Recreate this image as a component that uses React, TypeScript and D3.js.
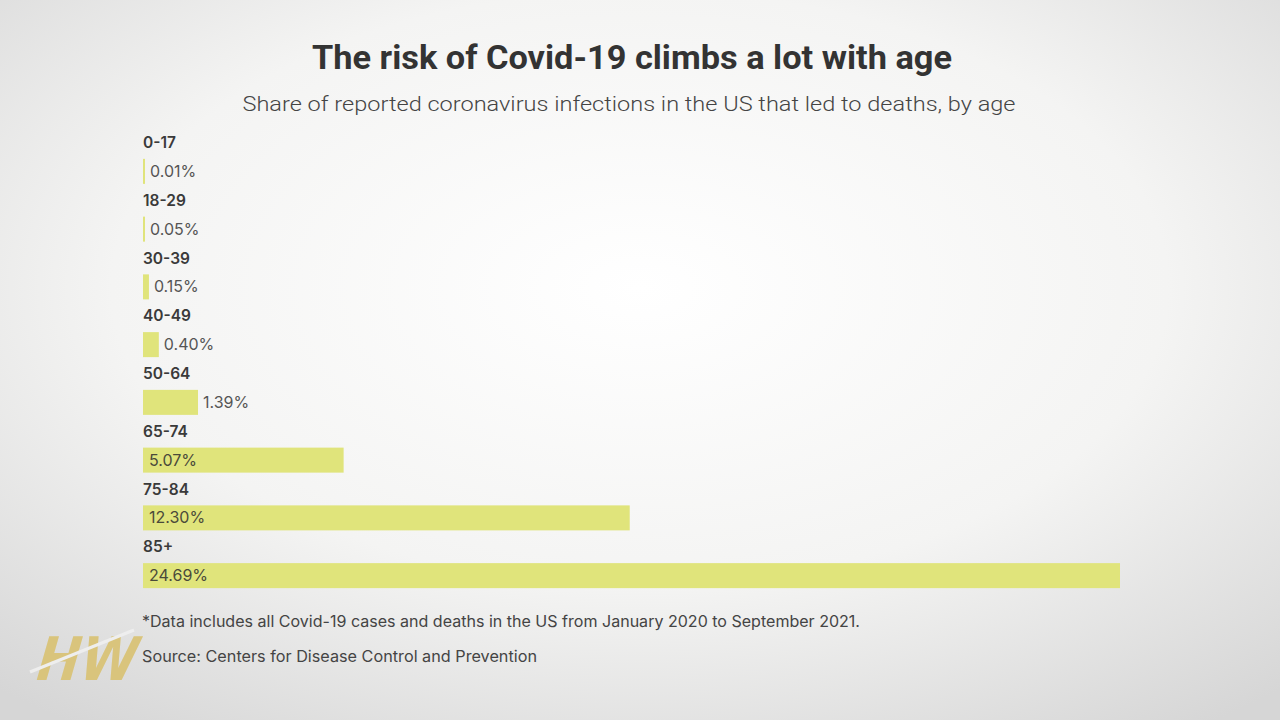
import React from "react";
import * as d3 from "d3";

const categories = ["0-17", "18-29", "30-39", "40-49", "50-64", "65-74", "75-84", "85+"];
const values = [0.01, 0.05, 0.15, 0.4, 1.39, 5.07, 12.3, 24.69];
const valueLabels = ["0.01%", "0.05%", "0.15%", "0.40%", "1.39%", "5.07%", "12.30%", "24.69%"];

const title = "The risk of Covid-19 climbs a lot with age";
const subtitle = "Share of reported coronavirus infections in the US that led to deaths, by age";
const note = "*Data includes all Covid-19 cases and deaths in the US from January 2020 to September 2021.";
const source = "Source: Centers for Disease Control and Prevention";

export default function App() {
  const W = 1280, H = 720;
  const x = d3.scaleLinear().domain([0, 24.69]).range([143, 1120]);
  const y = d3.scaleBand<string>().domain(categories).range([128, 590]).paddingInner(0).paddingOuter(0);
  const bh = 25;
  const font = "Inter, 'Open Sans', sans-serif";
  return (
    <div style={{ position: "absolute", left: 0, top: 0, width: W, height: H, overflow: "hidden" }}>
      <svg width={W} height={H} style={{ display: "block" }}>
        <defs>
          <radialGradient id="bg" cx="50%" cy="40%" r="75%">
            <stop offset="0%" stopColor="#ffffff" />
            <stop offset="55%" stopColor="#f4f4f3" />
            <stop offset="100%" stopColor="#d6d6d6" />
          </radialGradient>
        </defs>
        <rect x={0} y={0} width={W} height={H} fill="url(#bg)" />
        <text x={632} y={69} textAnchor="middle" fontFamily="'Liberation Sans Narrow', 'Roboto', sans-serif"
          fontWeight={700} fontSize={33} fill="#333" textLength={640} lengthAdjust="spacingAndGlyphs">{title}</text>
        <text x={629} y={111} textAnchor="middle" fontFamily="'Roboto', sans-serif" fontWeight={300}
          fontSize={21} fill="#444" textLength={773} lengthAdjust="spacingAndGlyphs">{subtitle}</text>
        {categories.map((c, i) => {
          const y0 = y(c)!;
          const step = y.step();
          const labelY = y0 + 20;
          const barY = y0 + step / 2 + 2;
          const w = Math.max(2, x(values[i]) - x(0));
          const inside = values[i] > 3;
          return (
            <g key={c}>
              <text x={143} y={labelY} fontFamily={font} fontWeight={600} fontSize={15.5} fill="#3a3a3a">{c}</text>
              <rect x={x(0)} y={barY} width={w} height={bh} fill="#e0e47b" />
              <text x={inside ? x(0) + 6 : x(0) + w + 5} y={barY + bh / 2 + 5.5} fontFamily={font}
                fontSize={16} fill={inside ? "#4a4a3a" : "#555"}>{valueLabels[i]}</text>
            </g>
          );
        })}
        <text x={142} y={627} fontFamily={font} fontSize={15.5} fill="#444" textLength={718} lengthAdjust="spacingAndGlyphs">{note}</text>
        <text x={142} y={662} fontFamily={font} fontSize={15.5} fill="#444" textLength={395} lengthAdjust="spacingAndGlyphs">{source}</text>
        <g transform="translate(22,680) skewX(-16)">
          <text x={10} y={0} fontFamily="'DejaVu Sans', sans-serif" fontWeight={700} fontSize={60}
            fill="#d9c47c" textLength={100} lengthAdjust="spacingAndGlyphs">HW</text>
        </g>
        <line x1={30} y1={672} x2={134} y2={630} stroke="#eeeeee" strokeWidth={3} />
      </svg>
    </div>
  );
}
